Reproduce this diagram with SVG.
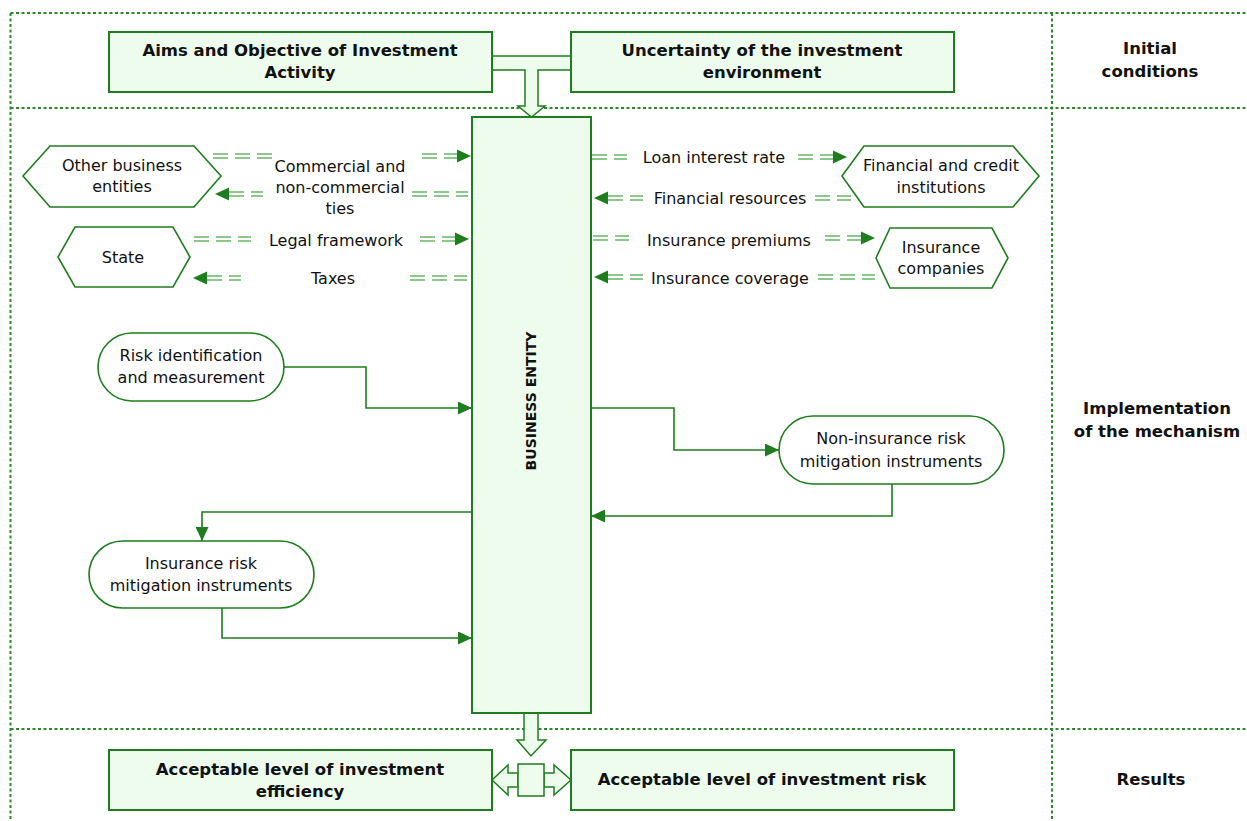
<svg xmlns="http://www.w3.org/2000/svg" width="1247" height="821" viewBox="0 0 1247 821">
<style>
.grid{stroke:#2a8a2a;stroke-width:2;stroke-dasharray:3 2.5;fill:none}
.box{fill:#edfced;stroke:#1e7d1e;stroke-width:2}
.shape{fill:#ffffff;stroke:#1e7d1e;stroke-width:1.6}
.blk{fill:#edfced;stroke:#1e7d1e;stroke-width:1.5}
.ln{fill:none;stroke:#1e7d1e;stroke-width:1.6}
.dl{fill:none;stroke:#8cc88c;stroke-width:1.8;stroke-dasharray:15 7}
.ah{fill:#1e7d1e;stroke:none}
text{font-family:"DejaVu Sans","Liberation Sans",sans-serif;font-size:16px;fill:#111;text-anchor:middle}
.b{font-weight:bold;font-size:16.5px}
</style>
<defs>
<marker id="arr" viewBox="0 0 14 13" refX="14" refY="6.5" markerWidth="14" markerHeight="13" markerUnits="userSpaceOnUse" orient="auto">
<path d="M0,0 L14,6.5 L0,13 Z" fill="#1e7d1e"/>
</marker>
</defs>
<rect width="1247" height="821" fill="#ffffff"/>
<g id="grid">
<path class="grid" d="M10.5,13 H1247 M10.5,108 H1247 M10.5,729 H1247 M10.5,13 V821 M1052,13 V821"/>
</g>
<g id="row-labels">
<text class="b" x="1150" y="54">Initial</text>
<text class="b" x="1150" y="77">conditions</text>
<text class="b" x="1157" y="414">Implementation</text>
<text class="b" x="1157" y="437">of the mechanism</text>
<text class="b" x="1151" y="785">Results</text>
</g>
<g id="block-arrows">
<polygon class="blk" points="492,56 571,56 571,70 538,70 538,106 545,106 531.5,117 518,106 525,106 525,70 492,70"/>
<polygon class="blk" points="524,713 538,713 538,740 546,740 531,756 517,740 524,740"/>
<polygon class="blk" points="518,773 508,773 508,765 492,780 508,795 508,787 518,787"/>
<polygon class="blk" points="544,773 554,773 554,765 571,780 554,795 554,787 544,787"/>
<rect class="blk" x="518" y="764" width="26" height="32"/>
</g>
<g id="aims">
<rect class="box" x="109" y="32" width="383" height="60"/>
<text class="b" x="300" y="56">Aims and Objective of Investment</text>
<text class="b" x="300" y="78">Activity</text>
</g>
<g id="uncertainty">
<rect class="box" x="571" y="32" width="383" height="60"/>
<text class="b" x="762" y="56">Uncertainty of the investment</text>
<text class="b" x="762" y="78">environment</text>
</g>
<g id="business-entity">
<rect class="box" x="472" y="117" width="119" height="596"/>
<text class="b" style="font-size:14px" transform="translate(536,401) rotate(-90)">BUSINESS ENTITY</text>
</g>
<g id="efficiency">
<rect class="box" x="109" y="750" width="383" height="60"/>
<text class="b" x="300" y="775">Acceptable level of investment</text>
<text class="b" x="300" y="797">efficiency</text>
</g>
<g id="risk">
<rect class="box" x="571" y="750" width="383" height="60"/>
<text class="b" x="762" y="785">Acceptable level of investment risk</text>
</g>
<g id="other-business">
<polygon class="shape" points="23,176 50,146 194,146 221,176 194,207 50,207"/>
<text x="122" y="171">Other business</text>
<text x="122" y="192">entities</text>
</g>
<g id="state">
<polygon class="shape" points="58,257 75,227 173,227 190,257 173,287 75,287"/>
<text x="123" y="263">State</text>
</g>
<g id="financial-institutions">
<polygon class="shape" points="842,176 864,146 1013,146 1039,176 1013,207 864,207"/>
<text x="941" y="171">Financial and credit</text>
<text x="941" y="193">institutions</text>
</g>
<g id="insurance-companies">
<polygon class="shape" points="876,258 890,228 992,228 1008,258 992,288 890,288"/>
<text x="941" y="253">Insurance</text>
<text x="941" y="274">companies</text>
</g>
<g id="risk-identification">
<rect class="shape" x="98" y="333" width="186" height="68" rx="34"/>
<text x="191" y="361">Risk identification</text>
<text x="191" y="383">and measurement</text>
</g>
<g id="non-insurance">
<rect class="shape" x="779" y="416" width="225" height="68" rx="34"/>
<text x="891" y="444">Non-insurance risk</text>
<text x="891" y="467">mitigation instruments</text>
</g>
<g id="insurance-instruments">
<rect class="shape" x="89" y="541" width="225" height="67" rx="33.5"/>
<text x="201" y="569">Insurance risk</text>
<text x="201" y="591">mitigation instruments</text>
</g>
<g id="connectors">
<path class="ln" d="M284,367 H366 V408 H472" marker-end="url(#arr)"/>
<path class="ln" d="M591,408 H674 V450 H779" marker-end="url(#arr)"/>
<path class="ln" d="M892,484 V516 H591" marker-end="url(#arr)"/>
<path class="ln" d="M472,512 H202 V541" marker-end="url(#arr)"/>
<path class="ln" d="M222,608 V638 H472" marker-end="url(#arr)"/>
<path class="dl" d="M213,154 H272 M213,158 H272"/>
<path class="dl" d="M422,154 H459 M422,158 H459"/>
<polygon class="ah" points="471,156 457,149.5 457,162.5"/>
<path class="dl" d="M229,192 H263 M229,196 H263"/>
<polygon class="ah" points="215,194 229,187.5 229,200.5"/>
<path class="dl" d="M412,192 H468 M412,196 H468"/>
<path class="dl" d="M194,237 H251 M194,241 H251"/>
<path class="dl" d="M420,237 H457 M420,241 H457"/>
<polygon class="ah" points="469,239 455,232.5 455,245.5"/>
<path class="dl" d="M207,276 H241 M207,280 H241"/>
<polygon class="ah" points="193,278 207,271.5 207,284.5"/>
<path class="dl" d="M410,276 H467 M410,280 H467"/>
<path class="dl" d="M592,155 H627 M592,159 H627"/>
<path class="dl" d="M798,155 H835 M798,159 H835"/>
<polygon class="ah" points="847,157 833,150.5 833,163.5"/>
<path class="dl" d="M608,196 H643 M608,200 H643"/>
<polygon class="ah" points="594,198 608,191.5 608,204.5"/>
<path class="dl" d="M815,196 H851 M815,200 H851"/>
<path class="dl" d="M593,236 H629 M593,240 H629"/>
<path class="dl" d="M825,236 H863 M825,240 H863"/>
<polygon class="ah" points="875,238 861,231.5 861,244.5"/>
<path class="dl" d="M608,275 H643 M608,279 H643"/>
<polygon class="ah" points="594,277 608,270.5 608,283.5"/>
<path class="dl" d="M818,275 H875 M818,279 H875"/>
</g>
<g id="flow-labels">
<text x="340" y="172">Commercial and</text>
<text x="340" y="193">non-commercial</text>
<text x="340" y="214">ties</text>
<text x="336" y="246">Legal framework</text>
<text x="333" y="284">Taxes</text>
<text x="714" y="163">Loan interest rate</text>
<text x="730" y="204">Financial resources</text>
<text x="729" y="246">Insurance premiums</text>
<text x="730" y="284">Insurance coverage</text>
</g>
</svg>
